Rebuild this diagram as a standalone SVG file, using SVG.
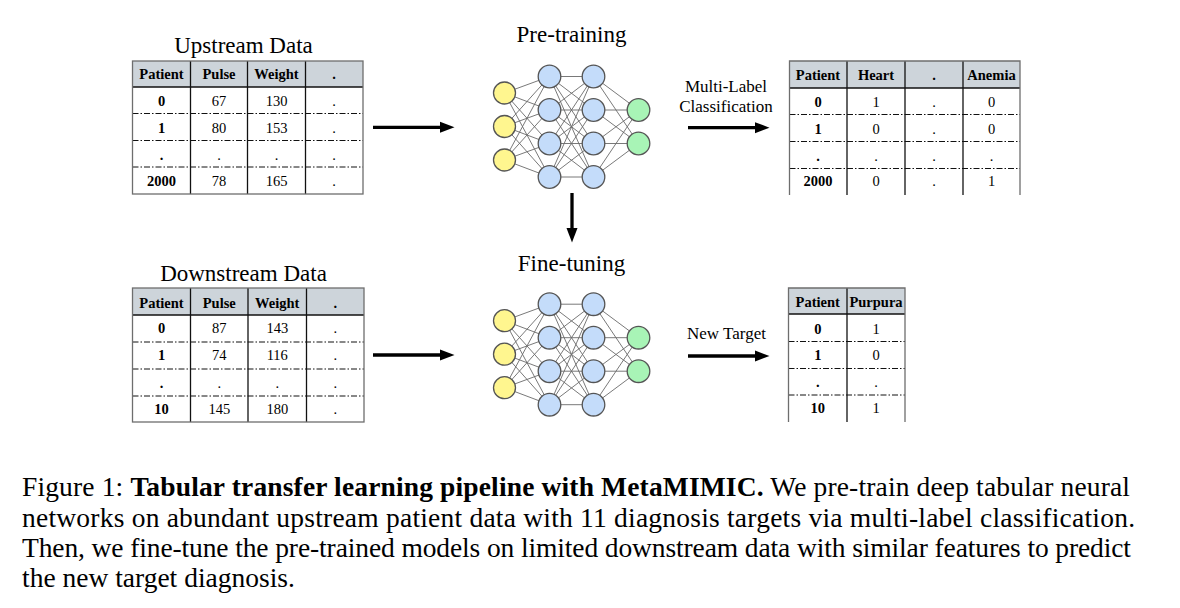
<svg xmlns="http://www.w3.org/2000/svg" width="1180" height="608" viewBox="0 0 1180 608">
<style>
.title{font-family:"Liberation Serif","Times New Roman",serif;font-size:23px;fill:#000;text-anchor:middle}
.lbl{font-family:"Liberation Serif","Times New Roman",serif;font-size:17px;fill:#000;text-anchor:middle}
.th{font-family:"Liberation Serif","Times New Roman",serif;font-size:14.5px;font-weight:bold;fill:#000;text-anchor:middle}
.tb{font-family:"Liberation Serif","Times New Roman",serif;font-size:14.5px;font-weight:bold;fill:#000;text-anchor:middle}
.td{font-family:"Liberation Serif","Times New Roman",serif;font-size:14.5px;fill:#000;text-anchor:middle}
.hdr{fill:#cdd4da}
.outer{fill:none;stroke:#6e6e6e;stroke-width:1.3}
.vl{stroke:#111;stroke-width:1.3;fill:none}
.hl{stroke:#111;stroke-width:1.3;fill:none}
.dl{stroke:#111;stroke-width:1;stroke-dasharray:6 2 1.5 2;fill:none}
.edge{stroke:#6a6a6a;stroke-width:0.9;fill:none}
.nin{fill:#fff68f;stroke:#555;stroke-width:1.3}
.nh{fill:#c4dcfa;stroke:#555;stroke-width:1.3}
.nout{fill:#a8f4b6;stroke:#555;stroke-width:1.3}
.arr{stroke:#000;stroke-width:3.3;fill:none}
.cap{font-family:"Liberation Serif","Times New Roman",serif;font-size:27.5px;fill:#000}
</style>
<defs>
<marker id="ah" markerUnits="userSpaceOnUse" markerWidth="15" markerHeight="12" viewBox="0 0 15 12" refX="1" refY="6" orient="auto">
<path d="M0,0.5 L14.5,6 L0,11.5 Z" fill="#000"/>
</marker>
</defs>

<!-- Upstream table -->
<g id="upstream-data">
<text class="title" x="243.5" y="53">Upstream Data</text>
<rect class="hdr" x="132.5" y="61" width="230.5" height="26"/>
<line class="dl" x1="132.5" y1="113.5" x2="363" y2="113.5"/>
<line class="dl" x1="132.5" y1="140.5" x2="363" y2="140.5"/>
<line class="dl" x1="132.5" y1="167" x2="363" y2="167"/>
<line class="hl" x1="132.5" y1="87" x2="363" y2="87"/>
<line class="vl" x1="190.5" y1="61" x2="190.5" y2="194"/>
<line class="vl" x1="247.5" y1="61" x2="247.5" y2="194"/>
<line class="vl" x1="305.5" y1="61" x2="305.5" y2="194"/>
<rect class="outer" x="132.5" y="61" width="230.5" height="133"/>
<text class="th" x="161.5" y="79">Patient</text>
<text class="th" x="219" y="79">Pulse</text>
<text class="th" x="276.5" y="79">Weight</text>
<text class="th" x="334" y="79">.</text>
<text class="tb" x="161.5" y="106">0</text><text class="td" x="219" y="106">67</text><text class="td" x="276.5" y="106">130</text><text class="td" x="334" y="106">.</text>
<text class="tb" x="161.5" y="132.7">1</text><text class="td" x="219" y="132.7">80</text><text class="td" x="276.5" y="132.7">153</text><text class="td" x="334" y="132.7">.</text>
<text class="tb" x="161.5" y="160">.</text><text class="td" x="219" y="160">.</text><text class="td" x="276.5" y="160">.</text><text class="td" x="334" y="160">.</text>
<text class="tb" x="161.5" y="186">2000</text><text class="td" x="219" y="186">78</text><text class="td" x="276.5" y="186">165</text><text class="td" x="334" y="186">.</text>
</g>

<!-- Multi-label target table -->
<g id="upstream-targets">
<rect class="hdr" x="789.5" y="61" width="230.5" height="27"/>
<line class="dl" x1="789.5" y1="114.5" x2="1020" y2="114.5"/>
<line class="dl" x1="789.5" y1="141.5" x2="1020" y2="141.5"/>
<line class="dl" x1="789.5" y1="168.5" x2="1020" y2="168.5"/>
<line class="hl" x1="789.5" y1="88" x2="1020" y2="88"/>
<line class="vl" x1="847" y1="61" x2="847" y2="195"/>
<line class="vl" x1="905" y1="61" x2="905" y2="195"/>
<line class="vl" x1="963" y1="61" x2="963" y2="195"/>
<path class="outer" d="M789.5,195 V61 H1020 V195"/>
<text class="th" x="818" y="80">Patient</text>
<text class="th" x="876" y="80">Heart</text>
<text class="th" x="934" y="80">.</text>
<text class="th" x="991.5" y="80">Anemia</text>
<text class="tb" x="818" y="107">0</text><text class="td" x="876" y="107">1</text><text class="td" x="934" y="107">.</text><text class="td" x="991.5" y="107">0</text>
<text class="tb" x="818" y="134">1</text><text class="td" x="876" y="134">0</text><text class="td" x="934" y="134">.</text><text class="td" x="991.5" y="134">0</text>
<text class="tb" x="818" y="160.5">.</text><text class="td" x="876" y="160.5">.</text><text class="td" x="934" y="160.5">.</text><text class="td" x="991.5" y="160.5">.</text>
<text class="tb" x="818" y="186">2000</text><text class="td" x="876" y="186">0</text><text class="td" x="934" y="186">.</text><text class="td" x="991.5" y="186">1</text>
</g>

<!-- Downstream table -->
<g id="downstream-data">
<text class="title" x="243.5" y="281">Downstream Data</text>
<rect class="hdr" x="132.5" y="288" width="231.5" height="27"/>
<line class="dl" x1="132.5" y1="342" x2="364" y2="342"/>
<line class="dl" x1="132.5" y1="369" x2="364" y2="369"/>
<line class="dl" x1="132.5" y1="396" x2="364" y2="396"/>
<line class="hl" x1="132.5" y1="315" x2="364" y2="315"/>
<line class="vl" x1="190.5" y1="288" x2="190.5" y2="422"/>
<line class="vl" x1="248" y1="288" x2="248" y2="422"/>
<line class="vl" x1="306.5" y1="288" x2="306.5" y2="422"/>
<rect class="outer" x="132.5" y="288" width="231.5" height="134"/>
<text class="th" x="161.5" y="307.5">Patient</text>
<text class="th" x="219.25" y="307.5">Pulse</text>
<text class="th" x="277.25" y="307.5">Weight</text>
<text class="th" x="335.25" y="307.5">.</text>
<text class="tb" x="161.5" y="333">0</text><text class="td" x="219.25" y="333">87</text><text class="td" x="277.25" y="333">143</text><text class="td" x="335.25" y="333">.</text>
<text class="tb" x="161.5" y="360">1</text><text class="td" x="219.25" y="360">74</text><text class="td" x="277.25" y="360">116</text><text class="td" x="335.25" y="360">.</text>
<text class="tb" x="161.5" y="387.5">.</text><text class="td" x="219.25" y="387.5">.</text><text class="td" x="277.25" y="387.5">.</text><text class="td" x="335.25" y="387.5">.</text>
<text class="tb" x="161.5" y="414">10</text><text class="td" x="219.25" y="414">145</text><text class="td" x="277.25" y="414">180</text><text class="td" x="335.25" y="414">.</text>
</g>

<!-- New target table -->
<g id="downstream-target">
<rect class="hdr" x="788.5" y="288" width="116.5" height="26"/>
<line class="dl" x1="788.5" y1="341.5" x2="905" y2="341.5"/>
<line class="dl" x1="788.5" y1="368.5" x2="905" y2="368.5"/>
<line class="dl" x1="788.5" y1="395" x2="905" y2="395"/>
<line class="hl" x1="788.5" y1="314" x2="905" y2="314"/>
<line class="vl" x1="847" y1="288" x2="847" y2="422"/>
<path class="outer" d="M788.5,422 V288 H905 V422"/>
<text class="th" x="817.75" y="307">Patient</text>
<text class="th" x="876" y="307">Purpura</text>
<text class="tb" x="817.75" y="333.5">0</text><text class="td" x="876" y="333.5">1</text>
<text class="tb" x="817.75" y="360">1</text><text class="td" x="876" y="360">0</text>
<text class="tb" x="817.75" y="387">.</text><text class="td" x="876" y="387">.</text>
<text class="tb" x="817.75" y="413">10</text><text class="td" x="876" y="413">1</text>
</g>

<!-- Pre-training network -->
<g id="pretraining-net">
<text class="title" x="571.5" y="41.5">Pre-training</text>
<path class="edge" d="M504.5 93L549.5 76.5M504.5 93L549.5 110M504.5 93L549.5 143.5M504.5 93L549.5 177M504.5 126.5L549.5 76.5M504.5 126.5L549.5 110M504.5 126.5L549.5 143.5M504.5 126.5L549.5 177M504.5 160L549.5 76.5M504.5 160L549.5 110M504.5 160L549.5 143.5M504.5 160L549.5 177M549.5 76.5L593.5 76.5M549.5 76.5L593.5 110M549.5 76.5L593.5 143.5M549.5 76.5L593.5 177M549.5 110L593.5 76.5M549.5 110L593.5 110M549.5 110L593.5 143.5M549.5 110L593.5 177M549.5 143.5L593.5 76.5M549.5 143.5L593.5 110M549.5 143.5L593.5 143.5M549.5 143.5L593.5 177M549.5 177L593.5 76.5M549.5 177L593.5 110M549.5 177L593.5 143.5M549.5 177L593.5 177M593.5 76.5L638.5 110M593.5 76.5L638.5 143.5M593.5 110L638.5 110M593.5 110L638.5 143.5M593.5 143.5L638.5 110M593.5 143.5L638.5 143.5M593.5 177L638.5 110M593.5 177L638.5 143.5"/>
<circle class="nin" cx="504.5" cy="93" r="11"/>
<circle class="nin" cx="504.5" cy="126.5" r="11"/>
<circle class="nin" cx="504.5" cy="160" r="11"/>
<circle class="nh" cx="549.5" cy="76.5" r="11.3"/>
<circle class="nh" cx="549.5" cy="110" r="11.3"/>
<circle class="nh" cx="549.5" cy="143.5" r="11.3"/>
<circle class="nh" cx="549.5" cy="177" r="11.3"/>
<circle class="nh" cx="593.5" cy="76.5" r="11.3"/>
<circle class="nh" cx="593.5" cy="110" r="11.3"/>
<circle class="nh" cx="593.5" cy="143.5" r="11.3"/>
<circle class="nh" cx="593.5" cy="177" r="11.3"/>
<circle class="nout" cx="638.5" cy="110" r="11.3"/>
<circle class="nout" cx="638.5" cy="143.5" r="11.3"/>
</g>

<!-- Fine-tuning network -->
<g id="finetuning-net">
<text class="title" x="571.5" y="271">Fine-tuning</text>
<g transform="translate(0,227.7)">
<path class="edge" d="M504.5 93L549.5 76.5M504.5 93L549.5 110M504.5 93L549.5 143.5M504.5 93L549.5 177M504.5 126.5L549.5 76.5M504.5 126.5L549.5 110M504.5 126.5L549.5 143.5M504.5 126.5L549.5 177M504.5 160L549.5 76.5M504.5 160L549.5 110M504.5 160L549.5 143.5M504.5 160L549.5 177M549.5 76.5L593.5 76.5M549.5 76.5L593.5 110M549.5 76.5L593.5 143.5M549.5 76.5L593.5 177M549.5 110L593.5 76.5M549.5 110L593.5 110M549.5 110L593.5 143.5M549.5 110L593.5 177M549.5 143.5L593.5 76.5M549.5 143.5L593.5 110M549.5 143.5L593.5 143.5M549.5 143.5L593.5 177M549.5 177L593.5 76.5M549.5 177L593.5 110M549.5 177L593.5 143.5M549.5 177L593.5 177M593.5 76.5L638.5 110M593.5 76.5L638.5 143.5M593.5 110L638.5 110M593.5 110L638.5 143.5M593.5 143.5L638.5 110M593.5 143.5L638.5 143.5M593.5 177L638.5 110M593.5 177L638.5 143.5"/>
<circle class="nin" cx="504.5" cy="93" r="11"/>
<circle class="nin" cx="504.5" cy="126.5" r="11"/>
<circle class="nin" cx="504.5" cy="160" r="11"/>
<circle class="nh" cx="549.5" cy="76.5" r="11.3"/>
<circle class="nh" cx="549.5" cy="110" r="11.3"/>
<circle class="nh" cx="549.5" cy="143.5" r="11.3"/>
<circle class="nh" cx="549.5" cy="177" r="11.3"/>
<circle class="nh" cx="593.5" cy="76.5" r="11.3"/>
<circle class="nh" cx="593.5" cy="110" r="11.3"/>
<circle class="nh" cx="593.5" cy="143.5" r="11.3"/>
<circle class="nh" cx="593.5" cy="177" r="11.3"/>
<circle class="nout" cx="638.5" cy="110" r="11.3"/>
<circle class="nout" cx="638.5" cy="143.5" r="11.3"/>
</g>
</g>

<!-- Connectors -->
<g id="connectors">
<line class="arr" x1="373" y1="127.3" x2="441" y2="127.3" marker-end="url(#ah)"/>
<line class="arr" x1="373" y1="355" x2="441" y2="355" marker-end="url(#ah)"/>
<line class="arr" x1="688" y1="127.7" x2="756" y2="127.7" marker-end="url(#ah)"/>
<line class="arr" x1="688" y1="356" x2="756" y2="356" marker-end="url(#ah)"/>
<line class="arr" x1="572" y1="193" x2="572" y2="229" marker-end="url(#ah)"/>
<text class="lbl" x="726" y="91.5">Multi-Label</text>
<text class="lbl" x="726" y="111.5">Classification</text>
<text class="lbl" x="726.5" y="339">New Target</text>
</g>

<!-- Caption -->
<g id="caption">
<text class="cap" x="22" y="496" textLength="1108" lengthAdjust="spacing">Figure 1: <tspan font-weight="bold">Tabular transfer learning pipeline with MetaMIMIC.</tspan> We pre-train deep tabular neural</text>
<text class="cap" x="22" y="526.5" textLength="1113" lengthAdjust="spacing">networks on abundant upstream patient data with 11 diagnosis targets via multi-label classification.</text>
<text class="cap" x="22" y="557" textLength="1109" lengthAdjust="spacing">Then, we fine-tune the pre-trained models on limited downstream data with similar features to predict</text>
<text class="cap" x="22" y="587">the new target diagnosis.</text>
</g>
</svg>
